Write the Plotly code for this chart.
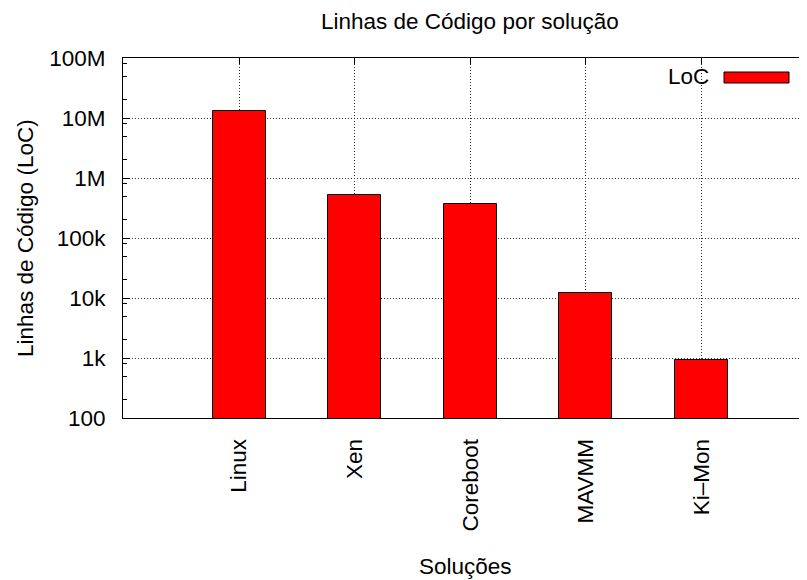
import plotly.graph_objects as go

categories = ["Linux", "Xen", "Coreboot", "MAVMM", "Ki\u2013Mon"]
loc_values = [13100000, 521000, 369000, 12100, 926]
y_tick_vals = [100, 1e3, 1e4, 1e5, 1e6, 1e7, 1e8]
y_tick_text = ["100", "1k", "10k", "100k", "1M", "10M", "100M"]
series_name = "LoC"

positions = list(range(len(categories)))
minor_vals = []
for dec in range(2, 8):
    for m in (2, 5, 8):
        minor_vals.append(m * 10 ** dec)

FONT = "Liberation Sans, Arial, Helvetica, sans-serif"
FS = 22.5
OFF = 8  # page body margin

W, H = 807, 580
L = 123 - OFF
T = 58 - OFF
R = W - (807 - OFF)
B = H - (418 - OFF)
pw = W - L - R
ph = H - T - B


def px(xpage):
    return (xpage - OFF - L) / pw


def py(ypage):
    return (T + ph - (ypage - OFF)) / ph


fig = go.Figure()
fig.add_trace(go.Bar(
    x=positions, y=loc_values, name=series_name, width=0.46,
    marker=dict(color="#ff0000", line=dict(color="#000000", width=1)),
    showlegend=False,
))
# invisible trace to activate the top axis
fig.add_trace(go.Scatter(x=[positions[0]], y=[loc_values[0]], xaxis="x2", mode="markers",
                         marker=dict(opacity=0), showlegend=False, hoverinfo="skip"))

XR = [-1.005, 4.915]
GRID = dict(showgrid=True, gridcolor="#333", griddash="1px,2px", gridwidth=1)
fig.update_layout(
    width=W, height=H,
    margin=dict(l=L, r=R, t=T, b=B, pad=0, autoexpand=False),
    paper_bgcolor="white", plot_bgcolor="white",
    font=dict(family=FONT, size=FS, color="#000"),
    xaxis=dict(
        range=XR, tickmode="array", tickvals=positions, ticktext=categories,
        tickangle=-90, ticks="", showline=True, linecolor="#000", linewidth=1, mirror=True,
        zeroline=False, tickfont=dict(size=FS), ticklabelstandoff=11, **GRID,
    ),
    xaxis2=dict(
        overlaying="x", side="top", matches="x", range=XR,
        tickmode="array", tickvals=positions, ticks="inside", ticklen=6, tickcolor="#000",
        showticklabels=False, showgrid=False, zeroline=False, showline=False,
    ),
    yaxis=dict(
        type="log", range=[2, 8], tickmode="array", tickvals=y_tick_vals, ticktext=y_tick_text,
        ticks="inside", ticklen=7, tickcolor="#000", showline=True, linecolor="#000", linewidth=1,
        zeroline=False, tickfont=dict(size=FS), ticklabelstandoff=12, **GRID,
        minor=dict(tickmode="array", tickvals=minor_vals, ticks="inside", ticklen=4,
                   tickcolor="#000", showgrid=False),
    ),
    showlegend=False,
    bargap=0,
)

# title
fig.add_annotation(text="Linhas de Código por solução", xref="paper", yref="paper",
                   x=px(470), y=py(22), showarrow=False, xanchor="center", yanchor="middle",
                   font=dict(size=FS))
# axis titles
fig.add_annotation(text="Linhas de Código (LoC)", xref="paper", yref="paper",
                   x=px(25), y=0.5, textangle=-90, showarrow=False,
                   xanchor="center", yanchor="middle", font=dict(size=FS))
fig.add_annotation(text="Soluções", xref="paper", yref="paper",
                   x=0.5, y=py(566), showarrow=False,
                   xanchor="center", yanchor="middle", font=dict(size=FS))

# legend (gnuplot-style key)
fig.add_annotation(text=series_name, xref="paper", yref="paper",
                   x=px(711), y=py(76), showarrow=False,
                   xanchor="right", yanchor="middle", font=dict(size=FS))
fig.add_shape(type="rect", xref="paper", yref="paper",
              x0=px(724), x1=px(789), y0=py(83), y1=py(72),
              fillcolor="#ff0000", line=dict(color="#000", width=1))

fig.write_html("out.html")
